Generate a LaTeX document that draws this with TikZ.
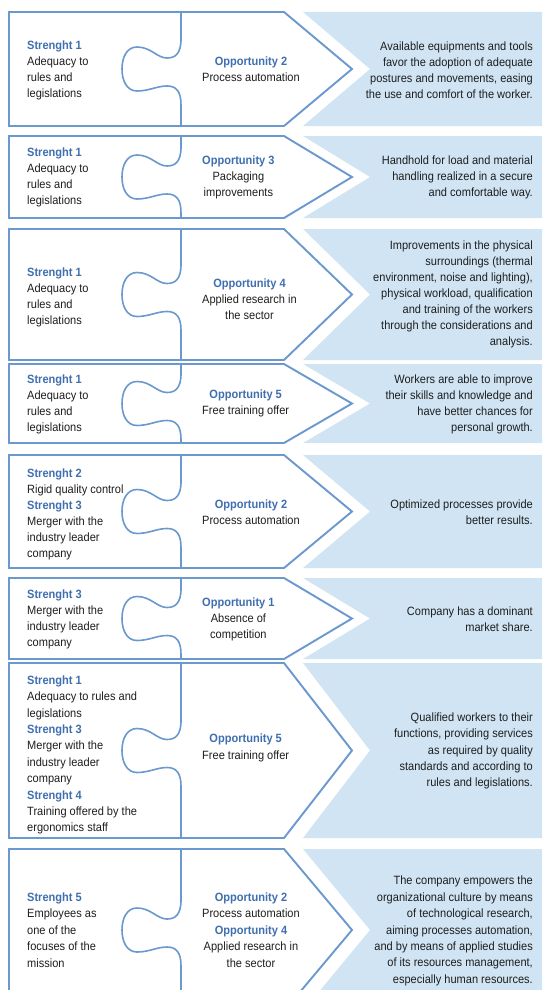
\documentclass[tikz,border=0pt]{standalone}
\usepackage{fontspec}
\setmainfont{Liberation Sans}[FakeStretch=0.92]
\definecolor{pzline}{HTML}{6A98CF}
\definecolor{pztitle}{HTML}{3F6FB0}
\definecolor{pzfill}{HTML}{D0E4F3}
\definecolor{pztext}{HTML}{1E1E1E}
\tikzset{
  pzframe/.style={draw=pzline, line width=1.9pt, fill=white, line join=miter},
  pzknob/.style={draw=pzline, line width=1.6pt},
  pzblue/.style={fill=pzfill},
  txt/.style={font=\fontsize{12}{16}\selectfont, text=pztext, inner sep=0pt},
  loose/.style={font=\fontsize{12}{16.4}\selectfont},
  lefttxt/.style={txt, anchor=west, align=left},
  midtxt/.style={txt, anchor=west, align=center},
  righttxt/.style={txt, anchor=east, align=right},
}
\newcommand\hd[1]{\textcolor{pztitle}{\textbf{#1}}}
% #1 top, #2 centre, #3 bottom
\newcommand\pzrow[3]{%
  \fill[pzblue] (303,#1) -- (370,#2) -- (303,#3) -- (545,#3) -- (545,#1) -- cycle;
  \draw[pzframe] (9,#1) -- (284,#1) -- (352,#2) -- (284,#3) -- (9,#3) -- cycle;
  \draw[pzknob] (181,#1) -- (181,{#2-30})
    .. controls (181,{#2-15}) and (175,{#2-11}) .. (167,{#2-11})
    .. controls (157,{#2-11}) and (151,{#2-22}) .. (137,{#2-22})
    .. controls (127,{#2-22}) and (122,{#2-12}) .. (122,#2)
    .. controls (122,{#2+12}) and (127,{#2+22}) .. (137,{#2+22})
    .. controls (149,{#2+22}) and (157,{#2+17}) .. (167,{#2+17})
    .. controls (176,{#2+17}) and (181,{#2+22}) .. (181,{#2+36})
    -- (181,#3);
}
\begin{document}
\begin{tikzpicture}[x=1pt,y=-1pt]
\useasboundingbox (0,0) rectangle (542,990);
\clip (0,0) rectangle (542,990);

% Row 1
\pzrow{12}{69}{126}
\node[lefttxt] (l1) at (27,70) {\hd{Strenght 1}\\Adequacy to\\rules and\\legislations};
\node[midtxt] (m1) at (202,69) {\hd{Opportunity 2}\\Process automation};
\node[righttxt] (r1) at (533,70) {Available equipments and tools\\favor the adoption of adequate\\postures and movements, easing\\the use and comfort of the worker.};

% Row 2
\pzrow{136}{177}{218}
\node[lefttxt] (l2) at (27,177) {\hd{Strenght 1}\\Adequacy to\\rules and\\legislations};
\node[midtxt] (m2) at (202,177) {\hd{Opportunity 3}\\Packaging\\improvements};
\node[righttxt] (r2) at (533,177) {Handhold for load and material\\handling realized in a secure\\and comfortable way.};

% Row 3
\pzrow{229}{294.5}{360}
\node[lefttxt] (l3) at (27,297) {\hd{Strenght 1}\\Adequacy to\\rules and\\legislations};
\node[midtxt] (m3) at (202,299) {\hd{Opportunity 4}\\Applied research in\\the sector};
\node[righttxt] (r3) at (533,294.5) {Improvements in the physical\\surroundings (thermal\\environment, noise and lighting),\\physical workload, qualification\\and training of the workers\\through the considerations and\\analysis.};

% Row 4
\pzrow{364}{403.5}{443}
\node[lefttxt] (l4) at (27,404) {\hd{Strenght 1}\\Adequacy to\\rules and\\legislations};
\node[midtxt] (m4) at (202,403.5) {\hd{Opportunity 5}\\Free training offer};
\node[righttxt] (r4) at (533,404) {Workers are able to improve\\their skills and knowledge and\\have better chances for\\personal growth.};

% Row 5
\pzrow{455}{511.5}{568}
\node[lefttxt] (l5) at (27,514) {\hd{Strenght 2}\\Rigid quality control\\\hd{Strenght 3}\\Merger with the\\industry leader\\company};
\node[midtxt] (m5) at (202,512) {\hd{Opportunity 2}\\Process automation};
\node[righttxt] (r5) at (533,512) {Optimized processes provide\\better results.};

% Row 6
\pzrow{578}{618.5}{659}
\node[lefttxt] (l6) at (27,619) {\hd{Strenght 3}\\Merger with the\\industry leader\\company};
\node[midtxt] (m6) at (202,619) {\hd{Opportunity 1}\\Absence of\\competition};
\node[righttxt] (r6) at (533,619) {Company has a dominant\\market share.};

% Row 7
\pzrow{663}{750.5}{838}
\node[lefttxt,loose] (l7) at (27,755) {\hd{Strenght 1}\\Adequacy to rules and\\legislations\\\hd{Strenght 3}\\Merger with the\\industry leader\\company\\\hd{Strenght 4}\\Training offered by the\\ergonomics staff};
\node[midtxt,loose] (m7) at (202,748) {\hd{Opportunity 5}\\Free training offer};
\node[righttxt,loose] (r7) at (533,751) {Qualified workers to their\\functions, providing services\\as required by quality\\standards and according to\\rules and legislations.};

% Row 8
\pzrow{849}{930}{1011}
\node[lefttxt,loose] (l8) at (27,930) {\hd{Strenght 5}\\Employees as\\one of the\\focuses of the\\mission};
\node[midtxt,loose] (m8) at (202,930) {\hd{Opportunity 2}\\Process automation\\\hd{Opportunity 4}\\Applied research in\\the sector};
\node[righttxt,loose] (r8) at (533,931) {The company empowers the\\organizational culture by means\\of technological research,\\aiming processes automation,\\and by means of applied studies\\of its resources management,\\especially human resources.};
\end{tikzpicture}
\end{document}
